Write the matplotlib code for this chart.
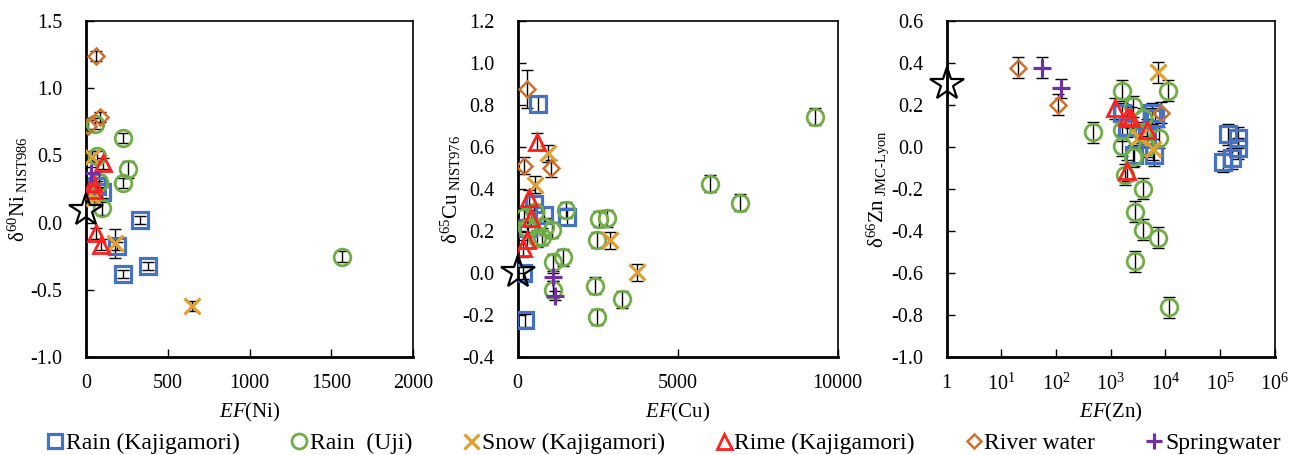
import numpy as np
import matplotlib
matplotlib.use("Agg")
import matplotlib.pyplot as plt
from matplotlib.lines import Line2D
from matplotlib.ticker import FixedLocator, LogLocator, NullFormatter

plt.rcParams['font.family'] = ['Liberation Serif', 'DejaVu Serif']
plt.rcParams['mathtext.fontset'] = 'custom'
plt.rcParams['mathtext.rm'] = 'Liberation Serif'
plt.rcParams['mathtext.it'] = 'Liberation Serif:italic'

# ---- Ni panel: EF(Ni) vs d60Ni ----
ni_kaj_ef = [330, 228, 377, 188, 96, 68]
ni_kaj_d = [0.02, -0.385, -0.325, -0.175, 0.225, 0.27]
ni_kaj_err = [0.03, 0.03, 0.03, 0.03, 0.04, 0.04]
ni_uji_ef = [1564, 228, 259, 224, 100, 82, 68, 57]
ni_uji_d = [-0.255, 0.63, 0.395, 0.295, 0.105, 0.305, 0.495, 0.735]
ni_uji_err = [0.04, 0.04, 0.06, 0.04, 0.05, 0.05, 0.04, 0.04]
ni_snow_ef = [646, 177, 37, 48]
ni_snow_d = [-0.62, -0.155, 0.49, 0.18]
ni_snow_err = [0.04, 0.11, 0.04, 0.04]
ni_rime_ef = [106, 42, 40, 58, 92]
ni_rime_d = [0.44, 0.295, 0.245, -0.08, -0.165]
ni_rime_err = [0.04, 0.04, 0.04, 0.04, 0.04]
ni_river_ef = [59, 86, 14]
ni_river_d = [1.24, 0.785, 0.72]
ni_river_err = [0.04, 0.04, 0.04]
ni_spring_ef = [29]
ni_spring_d = [0.37]
ni_spring_err = [0.04]
ni_crust = (1, 0.09)

# ---- Cu panel ----
cu_kaj_ef = [643, 228, 1530, 830, 520, 331, 150]
cu_kaj_d = [0.805, -0.225, 0.268, 0.276, 0.33, 0.215, 0.0]
cu_kaj_err = [0.04, 0.03, 0.04, 0.04, 0.04, 0.04, 0.03]
cu_uji_ef = [9282, 6004, 6941, 2466, 2548, 2778, 1508, 2413, 2466, 3247,
             1112, 1405, 1093, 206, 281, 540, 852, 1061, 593, 749]
cu_uji_d = [0.744, 0.425, 0.335, 0.157, 0.257, 0.26, 0.30, -0.06, -0.21, -0.125,
            0.05, 0.075, -0.08, 0.268, 0.213, 0.29, 0.22, 0.205, 0.165, 0.173]
cu_uji_err = [0.04] * 20
cu_snow_ef = [955, 540, 2882, 3734]
cu_snow_d = [0.57, 0.42, 0.155, 0.003]
cu_snow_err = [0.04, 0.04, 0.04, 0.04]
cu_rime_ef = [612, 353, 406, 300, 175]
cu_rime_d = [0.625, 0.355, 0.26, 0.157, 0.118]
cu_rime_err = [0.04, 0.04, 0.04, 0.04, 0.04]
cu_river_ef = [281, 197, 1030]
cu_river_d = [0.875, 0.51, 0.498]
cu_river_err = [0.09, 0.04, 0.04]
cu_spring_ef = [1112, 1165]
cu_spring_d = [-0.02, -0.108]
cu_spring_err = [0.02, 0.02]
cu_crust = (1, 0.005)

# ---- Zn panel (log EF) ----
zn_kaj_ef = [141000, 216000, 112000, 163000, 216000, 1590, 1960, 2700, 5600, 6300, 6500, 4550]
zn_kaj_d = [0.06, 0.044, -0.07, -0.054, -0.006, 0.16, 0.097, -0.04, 0.16, -0.04, 0.137, 0.05]
zn_kaj_err = [0.05] * 12
zn_uji_ef = [480, 1590, 2520, 1590, 1620, 1820, 2580, 3850, 2800, 3850,
             7250, 2800, 11800, 11300, 7750, 3950, 3700, 4550]
zn_uji_d = [0.07, 0.268, 0.195, 0.08, 0.006, -0.133, -0.046, -0.2, -0.308, -0.395,
            -0.432, -0.543, -0.764, 0.268, 0.044, 0.137, 0.07, 0.0]
zn_uji_err = [0.05] * 18
zn_snow_ef = [7450, 3330, 6000]
zn_snow_d = [0.356, 0.049, -0.01]
zn_snow_err = [0.05, 0.05, 0.05]
zn_rime_ef = [1200, 1960, 2330, 4700, 1960]
zn_rime_d = [0.184, 0.144, 0.14, 0.081, -0.114]
zn_rime_err = [0.05] * 5
zn_river_ef = [20, 107, 8300]
zn_river_d = [0.378, 0.2, 0.163]
zn_river_err = [0.05, 0.05, 0.05]
zn_spring_ef = [55, 123]
zn_spring_d = [0.378, 0.28]
zn_spring_err = [0.05, 0.045]
zn_crust = (1, 0.3)

labels = ['Rain (Kajigamori)', 'Rain  (Uji)', 'Snow (Kajigamori)',
          'Rime (Kajigamori)', 'River water', 'Springwater']

# marker style for each sample type
styles = [
    dict(marker='s', color='#4472C4', ms=11, mew=2.3),
    dict(marker='o', color='#70AD47', ms=12, mew=2.0),
    dict(marker='x', color='#E0A030', ms=12, mew=2.3),
    dict(marker='^', color='#FF2020', ms=12, mew=2.0),
    dict(marker='D', color='#D0702A', ms=8, mew=1.8),
    dict(marker='+', color='#7030A0', ms=13, mew=2.3),
]


def draw(ax, series, crust):
    for (ef, d, err), st in zip(series, styles):
        ax.errorbar(ef, d, yerr=err, fmt='none', ecolor='black',
                    elinewidth=1.0, capsize=4, capthick=1.0, zorder=2)
        ax.plot(ef, d, linestyle='none', marker=st['marker'], ms=st['ms'],
                mec=st['color'], mfc='none', mew=st['mew'], zorder=3)
    ax.plot([crust[0]], [crust[1]], linestyle='none', marker='*', ms=25,
            mec='black', mfc='none', mew=1.6, zorder=4, clip_on=False)
    for s in ax.spines.values():
        s.set_linewidth(1.2)
    ax.spines['left'].set_linewidth(2.0)
    ax.spines['bottom'].set_linewidth(2.0)
    ax.tick_params(axis='both', which='major', direction='in', length=6,
                   width=1.0, labelsize=14.5, top=False, right=False)
    ax.tick_params(axis='x', which='major', pad=12)
    ax.tick_params(axis='y', which='major', pad=17)


fig = plt.figure(figsize=(12.94, 4.55), dpi=100)
ax1 = fig.add_axes([0.0665, 0.2154, 0.2527, 0.7385])
ax2 = fig.add_axes([0.4001, 0.2154, 0.2473, 0.7385])
ax3 = fig.add_axes([0.7316, 0.2154, 0.2535, 0.7385])

draw(ax1, [(ni_kaj_ef, ni_kaj_d, ni_kaj_err), (ni_uji_ef, ni_uji_d, ni_uji_err),
           (ni_snow_ef, ni_snow_d, ni_snow_err), (ni_rime_ef, ni_rime_d, ni_rime_err),
           (ni_river_ef, ni_river_d, ni_river_err), (ni_spring_ef, ni_spring_d, ni_spring_err)],
     ni_crust)
ax1.set_xlim(0, 2000)
ax1.set_ylim(-1.0, 1.5)
ax1.set_xticks([0, 500, 1000, 1500, 2000])
ax1.set_yticks(np.arange(-1.0, 1.51, 0.5))
ax1.set_yticklabels(['-1.0', '-0.5', '0.0', '0.5', '1.0', '1.5'])
ax1.set_xlabel('$\\mathit{EF}$(Ni)', fontsize=15)
ax1.set_ylabel('δ$^{60}$Ni$_{\\ \\mathrm{NIST986}}$', fontsize=15)

draw(ax2, [(cu_kaj_ef, cu_kaj_d, cu_kaj_err), (cu_uji_ef, cu_uji_d, cu_uji_err),
           (cu_snow_ef, cu_snow_d, cu_snow_err), (cu_rime_ef, cu_rime_d, cu_rime_err),
           (cu_river_ef, cu_river_d, cu_river_err), (cu_spring_ef, cu_spring_d, cu_spring_err)],
     cu_crust)
ax2.set_xlim(0, 10000)
ax2.set_ylim(-0.4, 1.2)
ax2.set_xticks([0, 5000, 10000])
ax2.set_yticks(np.arange(-0.4, 1.21, 0.2))
ax2.set_yticklabels(['-0.4', '-0.2', '0.0', '0.2', '0.4', '0.6', '0.8', '1.0', '1.2'])
ax2.set_xlabel('$\\mathit{EF}$(Cu)', fontsize=15)
ax2.set_ylabel('δ$^{65}$Cu$_{\\ \\mathrm{NIST976}}$', fontsize=15)

draw(ax3, [(zn_kaj_ef, zn_kaj_d, zn_kaj_err), (zn_uji_ef, zn_uji_d, zn_uji_err),
           (zn_snow_ef, zn_snow_d, zn_snow_err), (zn_rime_ef, zn_rime_d, zn_rime_err),
           (zn_river_ef, zn_river_d, zn_river_err), (zn_spring_ef, zn_spring_d, zn_spring_err)],
     zn_crust)
ax3.set_xscale('log')
ax3.set_xlim(1, 1e6)
ax3.set_ylim(-1.0, 0.6)
ax3.xaxis.set_major_locator(FixedLocator([1, 1e1, 1e2, 1e3, 1e4, 1e5, 1e6]))
ax3.set_xticklabels(['1', '10$^{1}$', '10$^{2}$', '10$^{3}$', '10$^{4}$', '10$^{5}$', '10$^{6}$'])
ax3.xaxis.set_minor_locator(LogLocator(base=10, subs=np.arange(2, 10)))
ax3.xaxis.set_minor_formatter(NullFormatter())
ax3.tick_params(axis='x', which='minor', direction='in', length=3, width=0.8)
ax3.set_yticks(np.arange(-1.0, 0.61, 0.2))
ax3.set_yticklabels(['-1.0', '-0.8', '-0.6', '-0.4', '-0.2', '0.0', '0.2', '0.4', '0.6'])
ax3.set_xlabel('$\\mathit{EF}$(Zn)', fontsize=15)
ax3.set_ylabel('δ$^{66}$Zn$_{\\ \\mathrm{JMC‐Lyon}}$', fontsize=15)

# same label placement on all three panels
for ax in (ax1, ax2, ax3):
    ax.xaxis.set_label_coords(0.5, -0.13)
    ax.yaxis.set_label_coords(-0.17, 0.5)

handles = [Line2D([], [], linestyle='none', marker=st['marker'], ms=st['ms'] * 0.9,
                  mec=st['color'], mfc='none', mew=st['mew']) for st in styles]
fig.legend(handles, labels, loc='lower center', bbox_to_anchor=(0.513, -0.045),
           ncol=6, frameon=False, fontsize=17, handlelength=0.7,
           handletextpad=0.1, columnspacing=2.15)

fig.savefig('out.png', dpi=100)
